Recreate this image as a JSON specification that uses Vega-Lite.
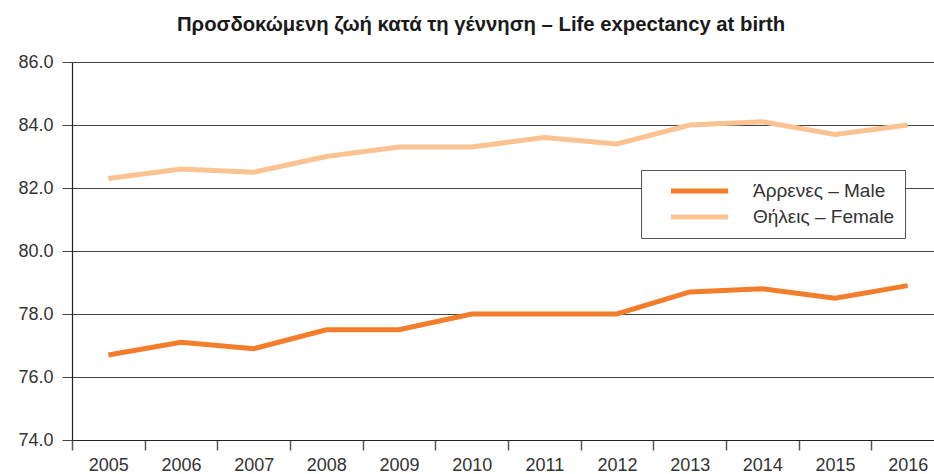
{
  "$schema": "https://vega.github.io/schema/vega-lite/v6.json",
  "autosize": {"type": "none"},
  "padding": {"left": 72, "top": 62, "right": 0, "bottom": 34},
  "width": 872,
  "height": 378,
  "background": "white",
  "title": {
    "text": "Προσδοκώμενη ζωή κατά τη γέννηση – Life expectancy at birth",
    "font": "Liberation Sans",
    "fontSize": 20.3,
    "fontWeight": "bold",
    "color": "#1a1a1a",
    "anchor": "middle",
    "dx": -27,
    "offset": 18
  },
  "data": {
    "values": [
      {"year": "2005", "series": "Άρρενες – Male", "value": 76.7},
      {"year": "2006", "series": "Άρρενες – Male", "value": 77.1},
      {"year": "2007", "series": "Άρρενες – Male", "value": 76.9},
      {"year": "2008", "series": "Άρρενες – Male", "value": 77.5},
      {"year": "2009", "series": "Άρρενες – Male", "value": 77.5},
      {"year": "2010", "series": "Άρρενες – Male", "value": 78.0},
      {"year": "2011", "series": "Άρρενες – Male", "value": 78.0},
      {"year": "2012", "series": "Άρρενες – Male", "value": 78.0},
      {"year": "2013", "series": "Άρρενες – Male", "value": 78.7},
      {"year": "2014", "series": "Άρρενες – Male", "value": 78.8},
      {"year": "2015", "series": "Άρρενες – Male", "value": 78.5},
      {"year": "2016", "series": "Άρρενες – Male", "value": 78.9},
      {"year": "2005", "series": "Θήλεις – Female", "value": 82.3},
      {"year": "2006", "series": "Θήλεις – Female", "value": 82.6},
      {"year": "2007", "series": "Θήλεις – Female", "value": 82.5},
      {"year": "2008", "series": "Θήλεις – Female", "value": 83.0},
      {"year": "2009", "series": "Θήλεις – Female", "value": 83.3},
      {"year": "2010", "series": "Θήλεις – Female", "value": 83.3},
      {"year": "2011", "series": "Θήλεις – Female", "value": 83.6},
      {"year": "2012", "series": "Θήλεις – Female", "value": 83.4},
      {"year": "2013", "series": "Θήλεις – Female", "value": 84.0},
      {"year": "2014", "series": "Θήλεις – Female", "value": 84.1},
      {"year": "2015", "series": "Θήλεις – Female", "value": 83.7},
      {"year": "2016", "series": "Θήλεις – Female", "value": 84.0}
    ]
  },
  "config": {
    "view": {"stroke": null},
    "font": "Liberation Sans"
  },
  "mark": {"type": "line", "strokeWidth": 5, "strokeJoin": "miter"},
  "encoding": {
    "x": {
      "field": "year",
      "type": "ordinal",
      "scale": {"type": "band", "paddingInner": 0, "paddingOuter": 0},
      "axis": {
        "title": null,
        "labelAngle": 0,
        "tickBand": "extent",
        "grid": false,
        "domainColor": "#222",
        "domainWidth": 1.2,
        "tickColor": "#555",
        "tickWidth": 1.5,
        "tickSize": 10,
        "labelFontSize": 18,
        "labelColor": "#333",
        "labelPadding": 6
      }
    },
    "y": {
      "field": "value",
      "type": "quantitative",
      "scale": {"domain": [74, 86], "nice": false, "zero": false},
      "axis": {
        "title": null,
        "values": [74, 76, 78, 80, 82, 84, 86],
        "format": ".1f",
        "grid": true,
        "gridColor": "#444",
        "gridWidth": 1,
        "gridOpacity": 1,
        "domainColor": "#222",
        "domainWidth": 1.2,
        "tickColor": "#444",
        "tickSize": 10,
        "labelFontSize": 18,
        "labelColor": "#333",
        "labelPadding": 9
      }
    },
    "color": {
      "field": "series",
      "type": "nominal",
      "scale": {
        "domain": ["Άρρενες – Male", "Θήλεις – Female"],
        "range": ["#F37D2A", "#FBC391"]
      },
      "legend": {
        "title": null,
        "orient": "none",
        "legendX": 569,
        "legendY": 108,
        "fillColor": "white",
        "strokeColor": "#555",
        "padding": 10,
        "symbolType": "stroke",
        "symbolSize": 3250,
        "symbolStrokeWidth": 5,
        "symbolOffset": 17,
        "clipHeight": 22,
        "labelOffset": 22,
        "labelFontSize": 19,
        "labelColor": "#333",
        "rowPadding": 4
      }
    }
  }
}
